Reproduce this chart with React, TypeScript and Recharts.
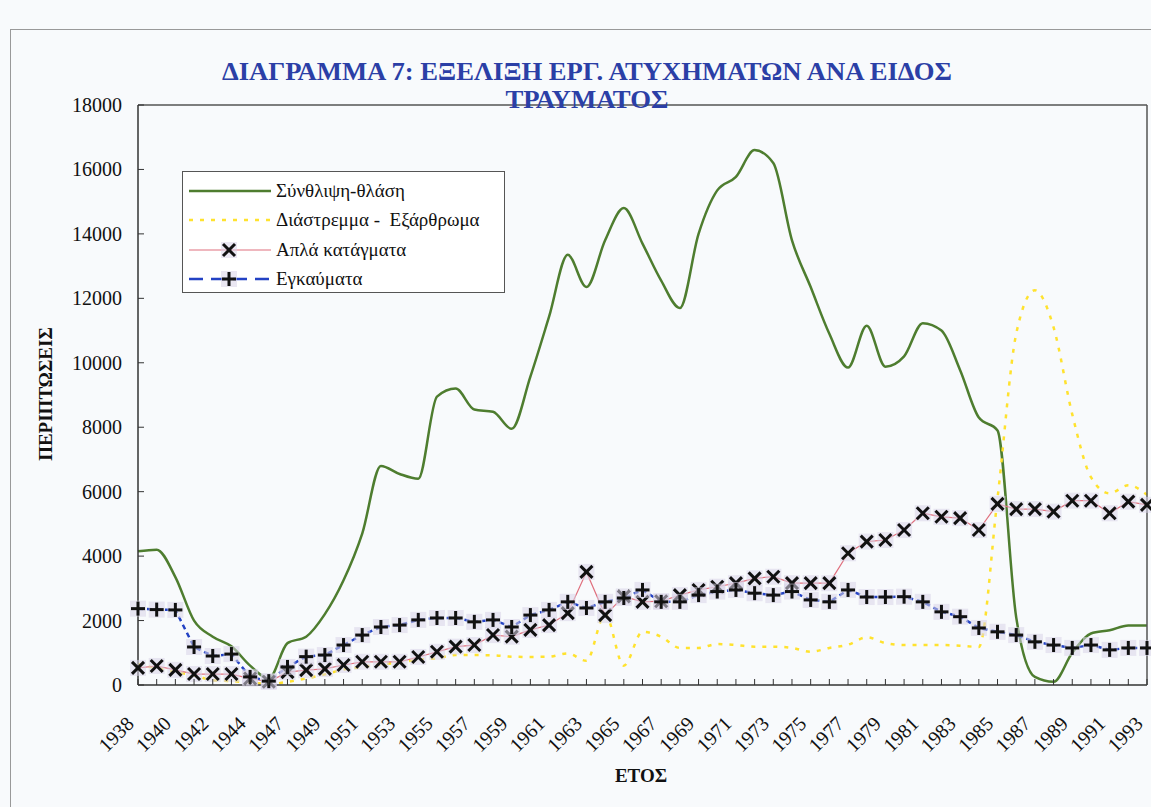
import { LineChart, Line, XAxis, YAxis, Legend } from 'recharts';

const SERIF = "'Liberation Serif', 'DejaVu Serif', 'Times New Roman', serif";

const years = [
  '1938', '1939', '1940', '1941', '1942', '1943', '1944', '1946', '1947', '1948',
  '1949', '1950', '1951', '1952', '1953', '1954', '1955', '1956', '1957', '1958',
  '1959', '1960', '1961', '1962', '1963', '1964', '1965', '1966', '1967', '1968',
  '1969', '1970', '1971', '1972', '1973', '1974', '1975', '1976', '1977', '1978',
  '1979', '1980', '1981', '1982', '1983', '1984', '1985', '1986', '1987', '1988',
  '1989', '1990', '1991', '1992', '1993',
];

// Σύνθλιψη-θλάση
const synthlipsi = [
  4150, 4200, 3350, 2000, 1500, 1200, 600, 200, 1300, 1500,
  2200, 3250, 4700, 6800, 6550, 6400, 8950, 9200, 8550, 8480,
  7950, 9570, 11430, 13350, 12350, 13800, 14800, 13700, 12550, 11700,
  14000, 15350, 15770, 16600, 16200, 13800, 12350, 10900, 9850, 11150,
  9880, 10200, 11230, 11000, 9770, 8300, 7900, 2100, 250, 100,
  1000, 1600, 1700, 1850, 1850,
];

// Διάστρεμμα - Εξάρθρωμα
const diastremma = [
  650, 520, 400, 300, 150, 120, 80, 30, 100, 200,
  330, 480, 560, 640, 700, 780, 830, 930, 930, 920,
  880, 870, 880, 980, 750, 2200, 600, 1650, 1500, 1150,
  1150, 1270, 1240, 1190, 1190, 1150, 1030, 1150, 1250, 1480,
  1300, 1240, 1240, 1240, 1220, 1180, 5800, 10900, 12250, 11100,
  8400, 6450, 5950, 6200, 5900,
];

// Απλά κατάγματα
const katagmata = [
  530, 590, 470, 340, 340, 340, 200, 100, 400, 460,
  500, 620, 720, 720, 720, 870, 1030, 1190, 1240, 1550,
  1500, 1710, 1860, 2230, 3510, 2170, 2750, 2580, 2600, 2790,
  2950, 3050, 3160, 3310, 3360, 3160, 3160, 3160, 4090, 4450,
  4500, 4810, 5330, 5220, 5180, 4810, 5620, 5460, 5460, 5380,
  5720, 5720, 5330, 5690, 5590,
];

// Εγκαύματα
const egkaumata = [
  2370, 2340, 2330, 1180, 900, 960, 250, 120, 560, 880,
  930, 1240, 1550, 1800, 1860, 2020, 2080, 2080, 1960, 2020,
  1800, 2170, 2330, 2580, 2390, 2580, 2700, 2950, 2580, 2580,
  2790, 2900, 2950, 2850, 2790, 2900, 2640, 2580, 2950, 2730,
  2730, 2740, 2580, 2270, 2120, 1770, 1650, 1550, 1340, 1240,
  1150, 1240, 1090, 1150, 1150,
];

const yTicks = [0, 2000, 4000, 6000, 8000, 10000, 12000, 14000, 16000, 18000];

const data = years.map((year, i) => ({
  year,
  synthlipsi: synthlipsi[i],
  diastremma: diastremma[i],
  katagmata: katagmata[i],
  egkaumata: egkaumata[i],
}));

const GREEN = '#4e7d2f';
const YELLOW = '#ffe22e';
const PINK = '#e0707e';
const BLUE = '#2342c4';

const XMark = ({ cx, cy }: { cx: number; cy: number }) => (
  <g>
    <rect x={cx - 8} y={cy - 8} width={16} height={16} fill="#d9d3e8" opacity={0.55} />
    <line x1={cx - 6} y1={cy - 6} x2={cx + 6} y2={cy + 6} stroke="#111" strokeWidth={3} />
    <line x1={cx - 6} y1={cy + 6} x2={cx + 6} y2={cy - 6} stroke="#111" strokeWidth={3} />
  </g>
);

const PlusMark = ({ cx, cy }: { cx: number; cy: number }) => (
  <g>
    <rect x={cx - 8} y={cy - 8} width={16} height={16} fill="#d9d3e8" opacity={0.55} />
    <line x1={cx - 7} y1={cy} x2={cx + 7} y2={cy} stroke="#111" strokeWidth={3} />
    <line x1={cx} y1={cy - 7} x2={cx} y2={cy + 7} stroke="#111" strokeWidth={3} />
  </g>
);

const renderX = (p: any) => <XMark key={'x' + p.index} cx={p.cx} cy={p.cy} />;
const renderPlus = (p: any) => <PlusMark key={'p' + p.index} cx={p.cx} cy={p.cy} />;

const XTick = (props: any) => {
  const { x, y, payload } = props;
  const i = years.indexOf(payload.value);
  const ax = x - 3;
  const ay = y + 40;
  return (
    <g>
      <line x1={x} y1={y} x2={x} y2={y - 6} stroke="#333" />
      {i % 2 === 0 && (
        <text
          x={ax}
          y={ay}
          transform={`rotate(-45 ${ax} ${ay})`}
          textAnchor="end"
          fontSize={20}
          fontFamily={SERIF}
          fill="#111"
        >
          {payload.value}
        </text>
      )}
    </g>
  );
};

const YTick = (props: any) => {
  const { x, y, payload } = props;
  return (
    <g>
      <line x1={x} y1={y} x2={x + 6} y2={y} stroke="#333" />
      <text x={x - 16} y={y} dy="0.35em" textAnchor="end" fontSize={20} fontFamily={SERIF} fill="#111">
        {payload.value}
      </text>
    </g>
  );
};

const legendItems = [
  { name: 'Σύνθλιψη-θλάση', color: GREEN, dash: undefined, width: 2.5, mark: null },
  { name: 'Διάστρεμμα -  Εξάρθρωμα', color: YELLOW, dash: '4 7', width: 2.5, mark: null },
  { name: 'Απλά κατάγματα', color: PINK, dash: undefined, width: 1.2, mark: 'x' },
  { name: 'Εγκαύματα', color: BLUE, dash: '14 8', width: 2.5, mark: '+' },
];

const LegendBox = () => (
  <div
    style={{
      width: 323,
      height: 122,
      boxSizing: 'border-box',
      border: '1px solid #555',
      background: '#fff',
      paddingTop: 4,
      fontFamily: SERIF,
      fontSize: 19,
      color: '#111',
    }}
  >
    {legendItems.map((it) => (
      <div key={it.name} style={{ display: 'flex', alignItems: 'center', height: 29.5 }}>
        <svg width={88} height={20} style={{ marginLeft: 4 }}>
          <line x1={2} y1={10} x2={84} y2={10} stroke={it.color} strokeWidth={it.width} strokeDasharray={it.dash} />
          {it.mark === 'x' && <XMark cx={42} cy={10} />}
          {it.mark === '+' && <PlusMark cx={42} cy={10} />}
        </svg>
        <span style={{ whiteSpace: 'pre', marginLeft: 1 }}>{it.name}</span>
      </div>
    ))}
  </div>
);

export default function App() {
  return (
    <div
      style={{
        position: 'absolute',
        left: 0,
        top: 0,
        width: 1151,
        height: 807,
        background: '#f8fafc',
        overflow: 'hidden',
      }}
    >
      <div
        style={{
          position: 'absolute',
          left: 10,
          top: 29,
          right: 0,
          bottom: 0,
          borderLeft: '1px solid #999',
          borderTop: '1px solid #999',
        }}
      />
      <LineChart width={1151} height={807} data={data} margin={{ top: 104, right: 3, bottom: 0, left: 0 }}>
        <XAxis
          dataKey="year"
          interval={0}
          height={122}
          tickSize={0}
          tickMargin={0}
          tickLine={false}
          tick={<XTick />}
          axisLine={{ stroke: '#333', strokeWidth: 1.5 }}
        />
        <XAxis xAxisId="top" orientation="top" dataKey="year" height={1} tick={false} tickLine={false} axisLine={{ stroke: '#555', strokeWidth: 1.5 }} />
        <YAxis
          domain={[0, 18000]}
          ticks={yTicks}
          interval={0}
          width={138}
          tickSize={0}
          tickMargin={0}
          tickLine={false}
          tick={<YTick />}
          axisLine={{ stroke: '#333', strokeWidth: 1.5 }}
        />
        <YAxis yAxisId="right" orientation="right" width={1} tick={false} tickLine={false} axisLine={{ stroke: '#555', strokeWidth: 1.5 }} />
        <Legend
          layout="horizontal"
          verticalAlign="middle"
          align="center"
          content={<LegendBox />}
          wrapperStyle={{ left: 182, top: 171, width: 323, height: 122 }}
        />
        <Line
          type="monotone"
          dataKey="synthlipsi"
          name="Σύνθλιψη-θλάση"
          stroke={GREEN}
          strokeWidth={2.5}
          dot={false}
          activeDot={false}
          isAnimationActive={false}
        />
        <Line
          type="monotone"
          dataKey="diastremma"
          name="Διάστρεμμα - Εξάρθρωμα"
          stroke={YELLOW}
          strokeWidth={2.5}
          strokeDasharray="4 7"
          dot={false}
          activeDot={false}
          isAnimationActive={false}
        />
        <Line
          type="linear"
          dataKey="katagmata"
          name="Απλά κατάγματα"
          stroke={PINK}
          strokeWidth={1.2}
          dot={renderX}
          activeDot={false}
          isAnimationActive={false}
        />
        <Line
          type="linear"
          dataKey="egkaumata"
          name="Εγκαύματα"
          stroke={BLUE}
          strokeWidth={2.5}
          strokeDasharray="5 4"
          dot={renderPlus}
          activeDot={false}
          isAnimationActive={false}
        />
      </LineChart>
      <svg
        width={1151}
        height={807}
        style={{ position: 'absolute', left: 0, top: 0, pointerEvents: 'none' }}
        fontFamily={SERIF}
        fontWeight="bold"
      >
        <text x={587} y={80} textAnchor="middle" fontSize={25} fill="#2b3fa6" textLength={730} lengthAdjust="spacingAndGlyphs">
          ΔΙΑΓΡΑΜΜΑ 7: ΕΞΕΛΙΞΗ ΕΡΓ. ΑΤΥΧΗΜΑΤΩΝ ΑΝΑ ΕΙΔΟΣ
        </text>
        <text x={587} y={108} textAnchor="middle" fontSize={25} fill="#2b3fa6" textLength={163} lengthAdjust="spacingAndGlyphs">
          ΤΡΑΥΜΑΤΟΣ
        </text>
        <text x={52} y={394} transform="rotate(-90 52 394)" textAnchor="middle" fontSize={19} fill="#111">
          ΠΕΡΙΠΤΩΣΕΙΣ
        </text>
        <text x={641} y={782} textAnchor="middle" fontSize={19} fill="#111">
          ΕΤΟΣ
        </text>
      </svg>
    </div>
  );
}
